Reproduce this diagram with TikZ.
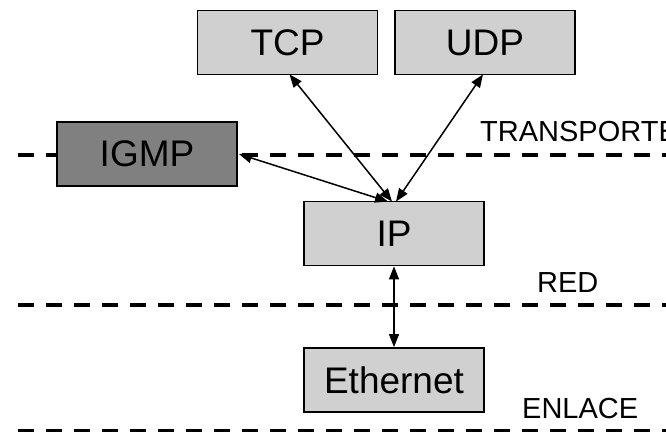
\documentclass[tikz,border=0pt]{standalone}
\usepackage{fontspec}
\setmainfont{Liberation Sans}
\usetikzlibrary{arrows.meta}
\definecolor{boxgray}{RGB}{208,208,208}
\definecolor{darkbox}{RGB}{128,128,128}
\tikzset{
  layerbox/.style={draw=black, line width=1.8pt, fill=boxgray,
    minimum width=180pt, minimum height=64pt, inner sep=0pt,
    font=\fontsize{37}{40}\selectfont},
  darklayerbox/.style={layerbox, fill=darkbox},
  layername/.style={anchor=base west, inner sep=0pt,
    font=\fontsize{29}{32}\selectfont},
  boundary/.style={line width=4pt, dash pattern=on 16pt off 12pt},
  link/.style={line width=1.5pt,
    {Triangle[length=13pt,width=10pt]}-{Triangle[length=13pt,width=10pt]}}
}
\begin{document}
\begin{tikzpicture}[x=1pt, y=-1pt]
  \useasboundingbox (0,0) rectangle (666,431);

  % layer boundaries
  \coordinate (tA) at (18,155);  \coordinate (tB) at (680,155);
  \coordinate (rA) at (18,304.5); \coordinate (rB) at (680,304.5);
  \coordinate (eA) at (18,431);  \coordinate (eB) at (680,431);
  \draw[boundary] (tA) -- (tB);
  \draw[boundary] (rA) -- (rB);
  \draw[boundary] (eA) -- (eB);

  % protocol boxes
  \node[layerbox] (tcp) at (287.5,42.5) {TCP};
  \node[layerbox] (udp) at (485,42.5) {UDP};
  \node[darklayerbox] (igmp) at (147,154) {IGMP};
  \node[layerbox] (ip) at (394,233.5) {IP};
  \node[layerbox] (eth) at (394,380) {Ethernet};

  % layer names
  \node[layername] (ltrans) at (480,141.5) {TRANSPORTE};
  \node[layername] (lred) at (537,292.5) {RED};
  \node[layername] (lenl) at (522,418) {ENLACE};

  % links between protocols
  \draw[link] ([xshift=2pt,yshift=1pt]tcp.south) -- ([xshift=-2pt,yshift=-1pt]ip.north);
  \draw[link] ([xshift=-2pt,yshift=1pt]udp.south) -- ([xshift=2pt,yshift=-1pt]ip.north);
  \draw[link] ([xshift=1pt]igmp.east) -- ([xshift=-6pt,yshift=-1pt]ip.north);
  \draw[link] (ip.south) -- (eth.north);
\end{tikzpicture}
\end{document}
